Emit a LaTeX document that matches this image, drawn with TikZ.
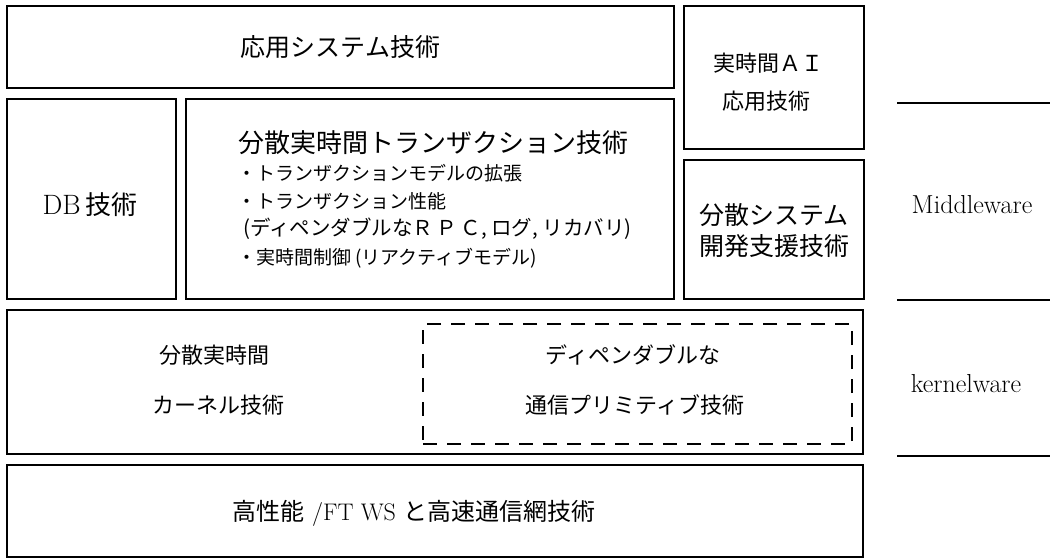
\documentclass[tikz,border=0pt]{standalone}
\usepackage{fontspec}
\newfontfamily\cjk{Noto Sans CJK JP}
\begin{document}
\begin{tikzpicture}[x=1pt,y=-1pt,
  box/.style={draw, line width=1.8pt, inner sep=0pt},
  dbox/.style={draw, line width=1.6pt, inner sep=0pt, dash pattern=on 14pt off 10pt},
  big/.style={font=\cjk\fontsize{25}{30}\selectfont, inner sep=0pt},
  mid/.style={font=\cjk\fontsize{22}{26}\selectfont, inner sep=0pt},
  sml/.style={font=\cjk\fontsize{19}{23}\selectfont, inner sep=0pt, anchor=west},
  lat/.style={font=\fontsize{26}{30}\selectfont, inner sep=0pt},
  sep/.style={line width=1.6pt}]
\useasboundingbox (0,0) rectangle (1050,559);
% boxes
\node[box, minimum width=667pt, minimum height=82pt] (ntop) at (340.5,47) {};
\node[box, minimum width=180pt, minimum height=143pt] (nai) at (774,77.5) {};
\node[box, minimum width=169pt, minimum height=200pt] (ndb) at (91.5,199) {};
\node[box, minimum width=488pt, minimum height=200pt] (ntr) at (430,199) {};
\node[box, minimum width=180pt, minimum height=139pt] (ndev) at (774,229.5) {};
\node[box, minimum width=856pt, minimum height=144pt] (nker) at (435,382) {};
\node[dbox, minimum width=429pt, minimum height=120pt] (ndash) at (637.5,384) {};
\node[box, minimum width=856pt, minimum height=92pt] (nbot) at (435,511) {};
% texts
\node[big] (t1) at (ntop.center) {応用システム技術};
\node[mid] (t2) at (768,63) {実時間ＡＩ};
\node[mid] (t3) at (766,101) {応用技術};
\node[font=\fontsize{28}{32}\selectfont, inner sep=0pt] (t4) at (90,205) {DB\,{\cjk\fontsize{26}{30}\selectfont 技術}};
\node[font=\cjk\fontsize{26}{30}\selectfont, inner sep=0pt] (t5) at (433,143) {分散実時間トランザクション技術};
\node[sml] (t6) at (237,173) {・トランザクションモデルの拡張};
\node[sml] (t7) at (237,201) {・トランザクション性能};
\node[sml, font=\cjk\fontsize{20.5}{24}\selectfont] (t8) at (243,229) {(ディペンダブルなＲ\,Ｐ\,Ｃ, ログ, リカバリ)};
\node[sml] (t9) at (237,258) {・実時間制御 (リアクティブモデル)};
\node[big] (t10) at (774,215) {分散システム};
\node[big] (t11) at (774,246) {開発支援技術};
\node[lat, anchor=base] (t12) at (972,213) {Middleware};
\node[lat, anchor=base] (t13) at (966,392) {kernelware};
\node[mid] (t14) at (214,355) {分散実時間};
\node[mid] (t15) at (218,405) {カーネル技術};
\node[mid] (t16) at (633,355) {ディペンダブルな};
\node[mid] (t17) at (635,405) {通信プリミティブ技術};
\node[font=\fontsize{24}{28}\selectfont, inner sep=0pt] (t18) at (414,513) {{\cjk 高性能} /FT WS {\cjk と高速通信網技術}};
% separators
\coordinate (s1a) at (897,103); \coordinate (s1b) at (1050,103);
\coordinate (s2a) at (897,300); \coordinate (s2b) at (1050,300);
\coordinate (s3a) at (897,456); \coordinate (s3b) at (1050,456);
\draw[sep] (s1a) -- (s1b);
\draw[sep] (s2a) -- (s2b);
\draw[sep] (s3a) -- (s3b);
\end{tikzpicture}
\end{document}
